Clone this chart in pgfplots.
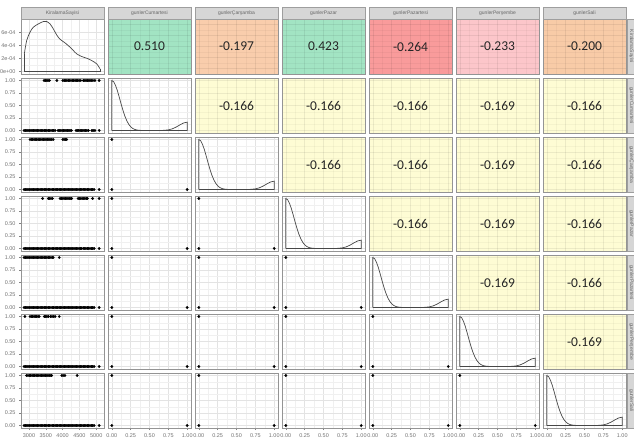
\documentclass[border=0pt]{standalone}
\usepackage{fontspec}
\setmainfont{Liberation Sans}
\newfontfamily\corrfont{Carlito}
\usepackage{pgfplots}
\usepackage{pgfplotstable}
\pgfplotsset{compat=1.18}

\definecolor{cgreen}{HTML}{A2E4C3}
\definecolor{cpeach}{HTML}{F9CDAC}
\definecolor{cpeachb}{HTML}{F8CBA7}
\definecolor{cred}{HTML}{F99B9B}
\definecolor{cpink}{HTML}{FCC6CA}
\definecolor{cyellow}{HTML}{FEFCD4}

% ---------- data ----------
% density of KiralamaSayisi (in units of 1e-4)
\pgfplotstableread[row sep=\\]{x y\\
2861 2.72\\ 2931 4.77\\ 3030 6.05\\ 3129 6.82\\ 3278 7.33\\ 3426 7.69\\ 3526 7.69\\
3625 7.33\\ 3724 6.56\\ 3823 5.64\\ 3923 4.97\\ 4071 4.41\\ 4220 3.75\\ 4319 3.23\\
4419 2.72\\ 4567 2.31\\ 4716 2.05\\ 4865 1.69\\ 5014 1.18\\ 5113 0.41\\}\countDens

% density outline of a 0/1 day indicator
\pgfplotstableread[row sep=\\]{x y\\
0 0\\ 0 1.000\\ 0.025 0.975\\ 0.05 0.902\\ 0.075 0.793\\ 0.1 0.662\\ 0.125 0.524\\
0.15 0.395\\ 0.175 0.282\\ 0.2 0.192\\ 0.225 0.123\\ 0.25 0.076\\ 0.275 0.044\\
0.3 0.024\\ 0.325 0.013\\ 0.35 0.006\\ 0.4 0.001\\ 0.45 0\\ 0.55 0\\ 0.6 0.0002\\
0.65 0.001\\ 0.7 0.004\\ 0.75 0.013\\ 0.8 0.032\\ 0.85 0.066\\ 0.9 0.110\\
0.95 0.150\\ 1 0.167\\ 1 0\\ 0 0\\}\binDens

% indicator against indicator
\pgfplotstableread[row sep=\\]{x y\\ 0 1\\ 0 0\\ 1 0\\}\pairPts

% counts of days that are not the given weekday (shared run)
\pgfplotstableread[row sep=\\]{x y\\
2855 0\\ 2895 0\\ 2935 0\\ 2975 0\\ 3015 0\\ 3055 0\\ 3095 0\\ 3135 0\\ 3175 0\\ 3215 0\\
3255 0\\ 3295 0\\ 3335 0\\ 3375 0\\ 3415 0\\ 3455 0\\ 3495 0\\ 3535 0\\ 3575 0\\ 3615 0\\
3655 0\\ 3695 0\\ 3735 0\\ 3775 0\\ 3815 0\\ 3855 0\\ 3895 0\\ 3935 0\\ 3975 0\\ 4015 0\\
4055 0\\ 4095 0\\ 4135 0\\ 4175 0\\ 4215 0\\ 4255 0\\ 4295 0\\ 4335 0\\ 4375 0\\ 4415 0\\
4455 0\\ 4495 0\\ 4535 0\\ 4575 0\\ 4615 0\\ 4655 0\\ 4695 0\\ 4735 0\\ 4775 0\\ 4815 0\\
4855 0\\ 4895 0\\ 4935 0\\ 5090 0\\}\zeroRun

% Cumartesi
\pgfplotstableread[row sep=\\]{x y\\
3450 1\\ 3490 1\\ 3530 1\\ 3570 1\\ 3610 1\\ 3830 1\\
4010 1\\ 4050 1\\ 4090 1\\ 4130 1\\ 4170 1\\ 4210 1\\ 4250 1\\ 4290 1\\ 4330 1\\ 4370 1\\
4410 1\\ 4450 1\\ 4490 1\\ 4540 1\\ 4620 1\\ 4660 1\\ 4700 1\\ 4740 1\\ 4780 1\\ 4820 1\\
4860 1\\ 4900 1\\ 4960 1\\ 5085 1\\}\cumOne
\pgfplotstableread[row sep=\\]{x y\\
2855 0\\ 2895 0\\ 2935 0\\ 2975 0\\ 3015 0\\ 3055 0\\ 3095 0\\ 3135 0\\ 3175 0\\ 3215 0\\
3255 0\\ 3295 0\\ 3335 0\\ 3375 0\\ 3415 0\\ 3455 0\\ 3495 0\\ 3535 0\\ 3575 0\\ 3615 0\\
3655 0\\ 3695 0\\ 3735 0\\ 3775 0\\ 3865 0\\ 3905 0\\ 3945 0\\ 3985 0\\ 4025 0\\ 4065 0\\
4105 0\\ 4145 0\\ 4185 0\\ 4225 0\\ 4265 0\\ 4400 0\\ 4440 0\\ 4480 0\\ 4520 0\\ 4560 0\\
4600 0\\ 4640 0\\ 4680 0\\ 4720 0\\ 4765 0\\ 4870 0\\ 4910 0\\ 4960 0\\ 5090 0\\}\cumZero

% Carsamba
\pgfplotstableread[row sep=\\]{x y\\
3030 1\\ 3070 1\\ 3110 1\\ 3150 1\\ 3190 1\\ 3230 1\\ 3270 1\\ 3310 1\\ 3350 1\\ 3390 1\\
3430 1\\ 3470 1\\ 3510 1\\ 3550 1\\ 3590 1\\ 3630 1\\ 3670 1\\ 3720 1\\
4005 1\\ 4045 1\\ 4085 1\\ 4120 1\\}\carOne

% Pazar
\pgfplotstableread[row sep=\\]{x y\\
3405 1\\ 3575 1\\ 3615 1\\ 3655 1\\ 3695 1\\
3925 1\\ 3965 1\\ 4005 1\\ 4045 1\\ 4085 1\\ 4125 1\\ 4165 1\\ 4205 1\\ 4245 1\\ 4270 1\\
4465 1\\ 4505 1\\ 4545 1\\ 4585 1\\ 4625 1\\ 4665 1\\ 4705 1\\ 4735 1\\ 4895 1\\ 5090 1\\}\pazOne
\pgfplotstableread[row sep=\\]{x y\\
2855 0\\ 2895 0\\ 2935 0\\ 2975 0\\ 3015 0\\ 3055 0\\ 3095 0\\ 3135 0\\ 3175 0\\ 3215 0\\
3255 0\\ 3295 0\\ 3335 0\\ 3375 0\\ 3415 0\\ 3455 0\\ 3495 0\\ 3535 0\\ 3575 0\\ 3615 0\\
3655 0\\ 3695 0\\ 3735 0\\ 3775 0\\ 3815 0\\ 3855 0\\ 3895 0\\ 3935 0\\ 3975 0\\ 4015 0\\
4055 0\\ 4095 0\\ 4135 0\\ 4175 0\\ 4215 0\\ 4255 0\\ 4295 0\\ 4335 0\\ 4375 0\\ 4415 0\\
4455 0\\ 4495 0\\ 4535 0\\ 4565 0\\ 4615 0\\ 4655 0\\ 4695 0\\ 4735 0\\ 4775 0\\ 4815 0\\
4855 0\\ 4895 0\\ 4940 0\\ 5090 0\\}\pazZero

% Pazartesi
\pgfplotstableread[row sep=\\]{x y\\
2855 1\\ 2895 1\\ 2935 1\\ 2975 1\\ 3015 1\\ 3055 1\\ 3095 1\\ 3135 1\\ 3175 1\\ 3215 1\\
3255 1\\ 3295 1\\ 3335 1\\ 3375 1\\ 3415 1\\ 3455 1\\ 3495 1\\ 3535 1\\ 3575 1\\ 3615 1\\
3655 1\\ 3695 1\\ 3720 1\\ 3900 1\\}\ptsOne

% Persembe
\pgfplotstableread[row sep=\\]{x y\\
2880 1\\ 3030 1\\ 3070 1\\ 3110 1\\ 3150 1\\ 3190 1\\ 3230 1\\ 3270 1\\ 3305 1\\
3455 1\\ 3495 1\\ 3535 1\\ 3575 1\\ 3645 1\\ 3685 1\\ 3725 1\\ 3775 1\\ 3900 1\\}\perOne

% Sali
\pgfplotstableread[row sep=\\]{x y\\
2930 1\\ 2970 1\\ 3010 1\\ 3050 1\\ 3090 1\\ 3130 1\\ 3170 1\\ 3210 1\\ 3250 1\\ 3290 1\\
3330 1\\ 3370 1\\ 3410 1\\ 3450 1\\ 3490 1\\ 3530 1\\ 3570 1\\ 3610 1\\ 3650 1\\ 3675 1\\
3975 1\\ 4015 1\\ 4070 1\\ 4435 1\\}\salOne

% ---------- styles ----------
\pgfplotsset{
  panel/.style 2 args={
    scale only axis, width=83pt, height=55pt,
    at={(21pt+87pt*#1,420pt-59pt*#2)}, anchor=north west,
    axis background/.style={fill=white},
    axis line style={draw=black!42, line width=0.9pt},
    grid=both, minor tick num=1,
    major grid style={draw=black!11, line width=0.5pt},
    minor grid style={draw=black!6, line width=0.3pt},
    tick align=outside, tick pos=left,
    major tick length=2pt, minor tick length=0pt,
    xtick style={draw=none}, ytick style={draw=none},
    tick label style={font=\fontsize{5.5}{6}\selectfont, text=black!55},
    xticklabels={}, yticklabels={},
  },
  bx/.style={xmin=-0.05, xmax=1.05, xtick={0,0.25,0.5,0.75,1}},
  by/.style={ymin=-0.05, ymax=1.05, ytick={0,0.25,0.5,0.75,1}},
  cx/.style={xmin=2762, xmax=5232, xtick={3000,3500,4000,4500,5000}},
  cy/.style={ymin=2762, ymax=5232, ytick={3000,3500,4000,4500,5000}},
  dy/.style={ymin=-0.385, ymax=8.085, ytick={0,2,4,6}},
  blabx/.style={xticklabels={0.00,0.25,0.50,0.75,1.00}, xtick style={draw=black!50, line width=0.4pt}},
  blaby/.style={yticklabels={0.00,0.25,0.50,0.75,1.00}, ytick style={draw=black!50, line width=0.4pt}},
  clabx/.style={xticklabels={3000,3500,4000,4500,5000}, xtick style={draw=black!50, line width=0.4pt}},
  dot/.style={only marks, mark=*, mark size=1.2pt, black},
  densline/.style={no marks, draw=black!72, line width=0.7pt},
}

\newcommand\corrtile[5]{% column, row, fill, value, y scale
  \begin{axis}[panel={#1}{#2}, bx, #5, axis background/.style={fill=#3},
      major grid style={draw=black, draw opacity=0.07, line width=0.5pt},
      minor grid style={draw=black, draw opacity=0.035, line width=0.3pt}]
    \node[text=black!85, font=\corrfont\fontsize{13.5}{14}\selectfont]
      at (rel axis cs:0.5,0.5) {#4};
  \end{axis}}

\newcommand\bindens[3]{% column, row, extra keys
  \begin{axis}[panel={#1}{#2}, bx, by, #3]
    \addplot[densline] table {\binDens};
  \end{axis}}

\newcommand\pairdots[3]{% column, row, extra keys
  \begin{axis}[panel={#1}{#2}, bx, by, #3]
    \addplot[dot] table {\pairPts};
  \end{axis}}

\newcommand\topstrip[2]{% column, label
  \fill[black!16] (21+87*#1,420) rectangle (104+87*#1,432);
  \draw[black!38, line width=0.5pt] (21+87*#1,420) rectangle (104+87*#1,432);
  \node[font=\fontsize{5}{5}\selectfont, text=black!60] at (62.5+87*#1,426) {#2};}

\newcommand\sidestrip[2]{% row, label
  \fill[black!16] (627,420-59*#1) rectangle (640,365-59*#1);
  \draw[black!38, line width=0.5pt] (627,420-59*#1) rectangle (640,365-59*#1);
  \node[font=\fontsize{5}{5}\selectfont, text=black!60, rotate=-90] at (631.5,392.5-59*#1) {#2};}

\begin{document}
\begin{tikzpicture}[x=1pt, y=1pt]
\useasboundingbox (0,0) rectangle (634,439);

% ----- row 0: KiralamaSayisi -----
\begin{axis}[panel={0}{0}, cx, dy, yticklabels={0e+00,2e-04,4e-04,6e-04},
    ytick style={draw=black!50, line width=0.4pt}]
  \addplot[densline, sharp plot] coordinates {(2861,2.72) (2861,0) (5113,0) (5113,0.41)};
  \addplot[densline, smooth, tension=0.5] table {\countDens};
\end{axis}
\corrtile{1}{0}{cgreen}{0.510}{cy}
\corrtile{2}{0}{cpeach}{-0.197}{cy}
\corrtile{3}{0}{cgreen}{0.423}{cy}
\corrtile{4}{0}{cred}{-0.264}{cy}
\corrtile{5}{0}{cpink}{-0.233}{cy}
\corrtile{6}{0}{cpeachb}{-0.200}{cy}

% ----- row 1: gunlerCumartesi -----
\begin{axis}[panel={0}{1}, cx, by, blaby]
  \addplot[dot] table {\cumZero};
  \addplot[dot] table {\cumOne};
\end{axis}
\bindens{1}{1}{}
\corrtile{2}{1}{cyellow}{-0.166}{by}
\corrtile{3}{1}{cyellow}{-0.166}{by}
\corrtile{4}{1}{cyellow}{-0.166}{by}
\corrtile{5}{1}{cyellow}{-0.169}{by}
\corrtile{6}{1}{cyellow}{-0.166}{by}

% ----- row 2: gunlerCarsamba -----
\begin{axis}[panel={0}{2}, cx, by, blaby]
  \addplot[dot] table {\zeroRun};
  \addplot[dot] table {\carOne};
\end{axis}
\pairdots{1}{2}{}
\bindens{2}{2}{}
\corrtile{3}{2}{cyellow}{-0.166}{by}
\corrtile{4}{2}{cyellow}{-0.166}{by}
\corrtile{5}{2}{cyellow}{-0.169}{by}
\corrtile{6}{2}{cyellow}{-0.166}{by}

% ----- row 3: gunlerPazar -----
\begin{axis}[panel={0}{3}, cx, by, blaby]
  \addplot[dot] table {\pazZero};
  \addplot[dot] table {\pazOne};
\end{axis}
\pairdots{1}{3}{}
\pairdots{2}{3}{}
\bindens{3}{3}{}
\corrtile{4}{3}{cyellow}{-0.166}{by}
\corrtile{5}{3}{cyellow}{-0.169}{by}
\corrtile{6}{3}{cyellow}{-0.166}{by}

% ----- row 4: gunlerPazartesi -----
\begin{axis}[panel={0}{4}, cx, by, blaby]
  \addplot[dot] table {\zeroRun};
  \addplot[dot] table {\ptsOne};
\end{axis}
\pairdots{1}{4}{}
\pairdots{2}{4}{}
\pairdots{3}{4}{}
\bindens{4}{4}{}
\corrtile{5}{4}{cyellow}{-0.169}{by}
\corrtile{6}{4}{cyellow}{-0.166}{by}

% ----- row 5: gunlerPersembe -----
\begin{axis}[panel={0}{5}, cx, by, blaby]
  \addplot[dot] table {\zeroRun};
  \addplot[dot] table {\perOne};
\end{axis}
\pairdots{1}{5}{}
\pairdots{2}{5}{}
\pairdots{3}{5}{}
\pairdots{4}{5}{}
\bindens{5}{5}{}
\corrtile{6}{5}{cyellow}{-0.169}{by}

% ----- row 6: gunlerSali -----
\begin{axis}[panel={0}{6}, cx, by, blaby, clabx]
  \addplot[dot] table {\zeroRun};
  \addplot[dot] table {\salOne};
\end{axis}
\pairdots{1}{6}{blabx}
\pairdots{2}{6}{blabx}
\pairdots{3}{6}{blabx}
\pairdots{4}{6}{blabx}
\pairdots{5}{6}{blabx}
\bindens{6}{6}{blabx}

% ----- strip labels -----
\topstrip{0}{KiralamaSayisi}
\topstrip{1}{gunlerCumartesi}
\topstrip{2}{gunlerÇarşamba}
\topstrip{3}{gunlerPazar}
\topstrip{4}{gunlerPazartesi}
\topstrip{5}{gunlerPerşembe}
\topstrip{6}{gunlerSali}
\sidestrip{0}{KiralamaSayisi}
\sidestrip{1}{gunlerCumartesi}
\sidestrip{2}{gunlerÇarşamba}
\sidestrip{3}{gunlerPazar}
\sidestrip{4}{gunlerPazartesi}
\sidestrip{5}{gunlerPerşembe}
\sidestrip{6}{gunlerSali}
\end{tikzpicture}
\end{document}
